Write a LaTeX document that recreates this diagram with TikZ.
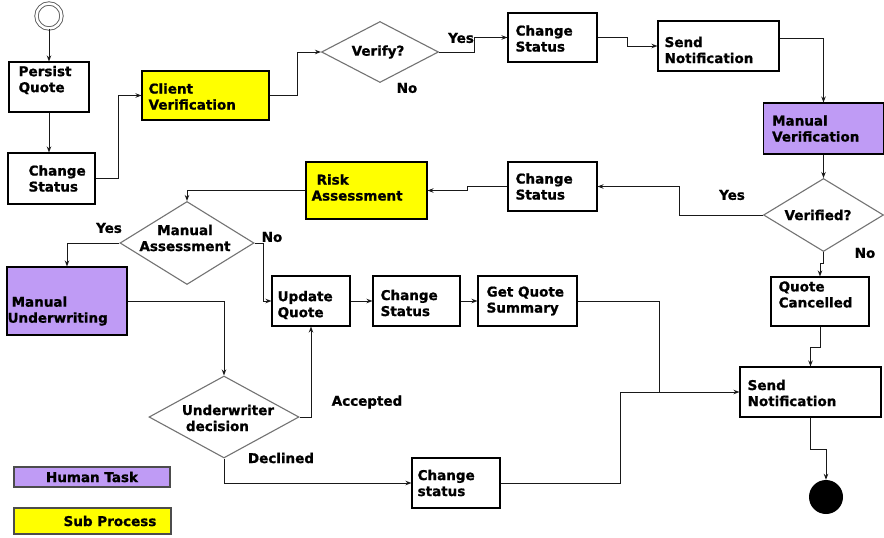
\documentclass[tikz,border=0pt]{standalone}
\usepackage{fontspec}
\setmainfont{DejaVu Sans}[BoldFeatures={FakeBold=1}]
\usetikzlibrary{shapes.geometric,arrows.meta}
\definecolor{htask}{RGB}{191,155,245}
\definecolor{subp}{RGB}{255,255,0}
\newcommand\dfont{\fontsize{13.5}{16}\selectfont\bfseries}
\begin{document}
\begin{tikzpicture}[x=1pt,y=-1pt,
  box/.style={draw=black, line width=1.1pt, rectangle, inner sep=0pt},
  txt/.style={font=\dfont, align=left, inner sep=0pt, anchor=west},
  dtxt/.style={font=\dfont, align=left, inner sep=0pt},
  dia/.style={diamond, draw=black!55, line width=1.1pt, inner sep=0pt},
  lbl/.style={font=\dfont, inner sep=0pt},
  conn/.style={draw=black!90, line width=1pt, -{Stealth[length=6pt,width=4.5pt]}},
  line/.style={draw=black!90, line width=1pt}]
\useasboundingbox (0,0) rectangle (884,538);
\fill[white] (0,0) rectangle (884,538);

% start / end
\node[circle, draw=black!65, line width=0.9pt, double=white, double distance=2.5pt, minimum size=25pt, inner sep=0pt] (start) at (49,16) {};
\node[circle, fill=black, minimum size=34pt, inner sep=0pt] (endc) at (826,497) {};

% boxes
\node[box, minimum width=80pt, minimum height=50pt] (persist) at (49,87) {};
\node[txt] (persist-t) at ([xshift=10pt,yshift=7pt]persist.west) {Persist\\Quote};
\node[box, minimum width=87pt, minimum height=51pt] (cs1) at (51.5,178.5) {};
\node[txt] (cs1-t) at ([xshift=21pt]cs1.west) {Change\\Status};
\node[box, fill=subp, minimum width=127pt, minimum height=49pt] (client) at (205.5,95.5) {};
\node[txt] (client-t) at ([xshift=7pt,yshift=-1pt]client.west) {Client\\Verification};
\node[dia, minimum width=117pt, minimum height=61pt] (verify) at (380,52) {};
\node[dtxt] (verify-t) at (378,52) {Verify?};
\node[box, minimum width=89pt, minimum height=49pt] (cs2) at (552.5,37.5) {};
\node[txt] (cs2-t) at ([xshift=8pt,yshift=-1pt]cs2.west) {Change\\Status};
\node[box, minimum width=121pt, minimum height=50pt] (sn1) at (718.5,46) {};
\node[txt] (sn1-t) at ([xshift=7pt,yshift=-4pt]sn1.west) {Send\\Notification};
\node[box, fill=htask, minimum width=120pt, minimum height=51pt] (mv) at (823.5,128.5) {};
\node[txt] (mv-t) at ([xshift=9pt]mv.west) {Manual\\Verification};
\node[dia, minimum width=120pt, minimum height=73pt] (verified) at (823.5,215) {};
\node[dtxt] (verified-t) at (818,215) {Verified?};
\node[box, minimum width=89pt, minimum height=49pt] (cs3) at (552.5,186.5) {};
\node[txt] (cs3-t) at ([xshift=8pt]cs3.west) {Change\\Status};
\node[box, fill=subp, minimum width=121pt, minimum height=57pt] (ra) at (366.5,190.5) {};
\node[txt] (ra-t) at ([xshift=6pt,yshift=3pt]ra.west) {\hspace*{5pt}Risk\\Assessment};
\node[dia, minimum width=134pt, minimum height=83pt] (ma) at (187,243) {};
\node[dtxt, align=center] (ma-t) at (185,238) {Manual\\Assessment};
\node[box, fill=htask, minimum width=120pt, minimum height=68pt] (mu) at (67,301) {};
\node[txt] (mu-t) at ([xshift=1pt,yshift=-10pt]mu.west) {\hspace*{4pt}Manual\\Underwriting};
\node[box, minimum width=78pt, minimum height=50pt] (uq) at (311,301) {};
\node[txt] (uq-t) at ([xshift=6pt,yshift=-4pt]uq.west) {Update\\Quote};
\node[box, minimum width=87pt, minimum height=50pt] (cs4) at (416.5,301) {};
\node[txt] (cs4-t) at ([xshift=8pt,yshift=-2pt]cs4.west) {Change\\Status};
\node[box, minimum width=99pt, minimum height=50pt] (gqs) at (527.5,301) {};
\node[txt] (gqs-t) at ([xshift=9pt]gqs.west) {Get Quote\\Summary};
\node[box, minimum width=98pt, minimum height=49pt] (qc) at (820,301.5) {};
\node[txt] (qc-t) at ([xshift=8pt,yshift=7pt]qc.west) {Quote\\Cancelled};
\node[box, minimum width=141pt, minimum height=50pt] (sn2) at (810.5,392) {};
\node[txt] (sn2-t) at ([xshift=8pt,yshift=-1pt]sn2.west) {Send\\Notification};
\node[dia, minimum width=150pt, minimum height=82pt] (ud) at (224,417) {};
\node[dtxt] (ud-t) at (228,418) {Underwriter\\\hspace*{4pt}decision};
\node[box, minimum width=88pt, minimum height=50pt] (cs5) at (456,483) {};
\node[txt] (cs5-t) at ([xshift=6pt]cs5.west) {Change\\status};

% legend
\node[box, fill=htask, draw=black!70, minimum width=156pt, minimum height=20pt, font=\dfont] (lg1) at (92,477) {Human Task};
\node[box, fill=subp, draw=black!70, minimum width=157pt, minimum height=26pt] (lg2) at (92.5,521) {};
\node[lbl, anchor=east] (lg2-t) at ([xshift=-15pt]lg2.east) {Sub Process};

% connectors
\draw[conn] (start) -- (persist);
\draw[conn] (persist.south) -- (persist.south |- cs1.north);
\draw[conn] (cs1.east) -- ++(23,0) |- (client.west);
\draw[conn] (client.east) -- ++(28,0) |- (verify.west);
\draw[conn] (verify.east) -- ++(35,0) |- (cs2.west);
\draw[conn] (cs2.east) -- ++(30,0) |- (sn1.west);
\draw[conn] ([yshift=8pt]sn1.east) -| (mv.north);
\draw[conn] (mv.south) -- (verified.north);
\draw[conn] (verified.west) -- ++(-83,0) |- (cs3.east);
\draw[conn] (cs3.west) -- ++(-40,0) |- (ra.east);
\draw[conn] (ra.west) -| (ma.north);
\draw[conn] (ma.west) -| (mu.north);
\draw[conn] (ma.east) -- ++(9,0) |- (uq.west);
\draw[conn] (uq.east) -- (cs4.west);
\draw[conn] (cs4.east) -- (gqs.west);
\draw[line] (gqs.east) -- ++(82,0) -- ++(0,92);
\draw[conn] (cs5.east) -- ++(120,0) |- (sn2.west);
\draw[conn] (verified.south) -- ++(0,11) -| (qc.north);
\draw[conn] (qc.south) -- ++(0,21) -| (sn2.north);
\draw[conn] (sn2.south) -- ++(0,32) -| (endc.north);
\draw[conn] (mu.east) -| (ud.north);
\draw[conn] (ud.east) -| (uq.south);
\draw[conn] (ud.south) |- (cs5.west);

% labels
\node[lbl] (yes1) at (461,38) {Yes};
\node[lbl] (no1) at (407,88) {No};
\node[lbl] (yes2) at (732,195) {Yes};
\node[lbl] (no2) at (865,253) {No};
\node[lbl] (yes3) at (109,228) {Yes};
\node[lbl] (no3) at (272,237) {No};
\node[lbl] (acc) at (367,402) {Accepted};
\node[lbl] (dec) at (281,458) {Declined};
\end{tikzpicture}
\end{document}
